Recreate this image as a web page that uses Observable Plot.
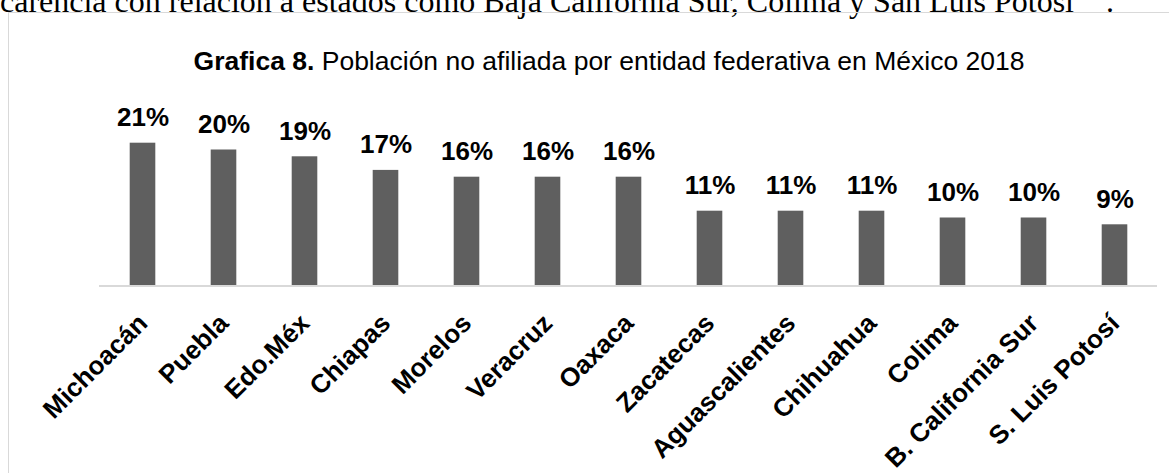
<!DOCTYPE html>
<html>
<head>
<meta charset="utf-8">
<script src="https://cdn.jsdelivr.net/npm/d3@7"></script>
<script src="https://cdn.jsdelivr.net/npm/@observablehq/plot@0.6"></script>
<style>
  html, body { margin: 0; padding: 0; background: #fff; }
  body { width: 1169px; height: 473px; overflow: hidden; position: relative; }
  #toptext { position: absolute; left: 0; top: -15px; font-family: "Times New Roman", "Liberation Serif", serif; font-size: 32px; line-height: 32px; white-space: nowrap; color: #000; }
  #frame { position: absolute; left: 8px; top: 12px; width: 1300px; height: 600px; border: 1px solid #d9d9d9; box-sizing: border-box; }
  #title { position: absolute; left: 609px; top: 48px; transform: translateX(-50%); font-family: Arial, "Liberation Sans", sans-serif; font-size: 26.5px; line-height: 26px; white-space: nowrap; color: #000; }
  #chart { position: absolute; left: 0; top: 80px; }
</style>
</head>
<body>
<div id="toptext">carencia con relación a estados como Baja California Sur, Colima y San Luis Potosí&nbsp;&nbsp;&nbsp;&nbsp;.</div>
<div id="frame"></div>
<div id="title"><b>Grafica 8.</b> Población no afiliada por entidad federativa en México 2018</div>
<div id="chart"></div>
<script>
const states = ["Michoacán", "Puebla", "Edo.Méx", "Chiapas", "Morelos", "Veracruz", "Oaxaca", "Zacatecas", "Aguascalientes", "Chihuahua", "Colima", "B. California Sur", "S. Luis Potosí"];
const values = [21, 20, 19, 17, 16, 16, 16, 11, 11, 11, 10, 10, 9];
const valueLabels = ["21%", "20%", "19%", "17%", "16%", "16%", "16%", "11%", "11%", "11%", "10%", "10%", "9%"];

const data = states.map((s, i) => ({state: s, value: values[i], label: valueLabels[i]}));

const chart = Plot.plot({
  width: 1169,
  height: 393,
  marginLeft: 99,
  marginRight: 12,
  marginTop: 35.5,
  marginBottom: 187.5,
  style: {fontFamily: "Arial, 'Liberation Sans', sans-serif", background: "transparent"},
  x: {domain: states, padding: 0, axis: null},
  y: {domain: [0, 25], axis: null},
  marks: [
    Plot.barY(data, {x: "state", y: "value", fill: "#5f5f5f", insetLeft: 27.7, insetRight: 27.7}),
    Plot.ruleY([0], {stroke: "#d9d9d9", strokeWidth: 2}),
    Plot.text(data, {x: "state", y: "value", text: "label", lineAnchor: "bottom", dy: -17, fontSize: 26, fontWeight: "bold", fill: "#000"}),
    Plot.text(data, {x: "state", y: () => 0, text: "state", rotate: -45, textAnchor: "end", lineAnchor: "middle", dy: 33, fontSize: 26, fontWeight: "bold", fill: "#000"})
  ]
});
document.getElementById("chart").appendChild(chart);
</script>
</body>
</html>
